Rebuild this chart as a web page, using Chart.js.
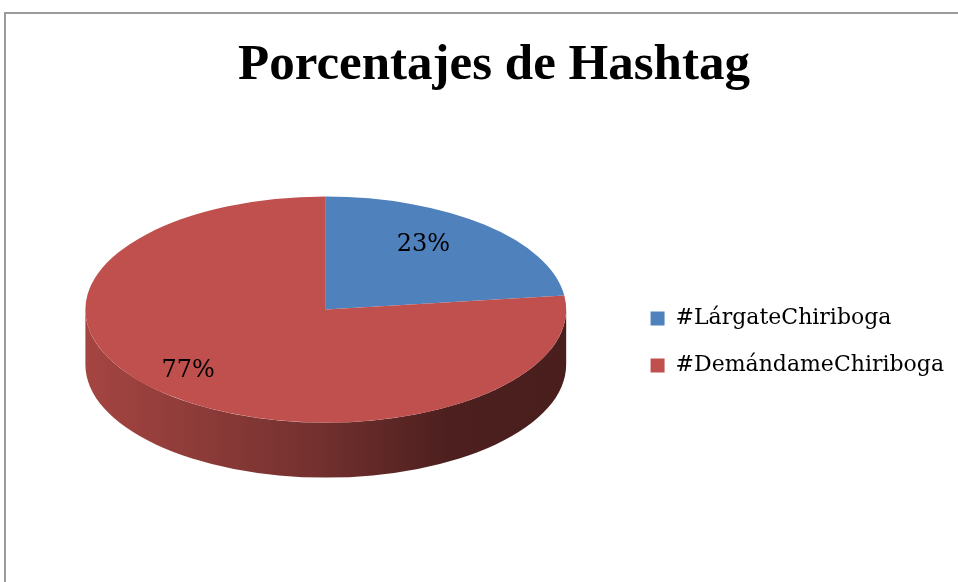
<!DOCTYPE html>
<html>
<head>
<meta charset="utf-8">
<script src="https://cdn.jsdelivr.net/npm/chart.js@4.4.1/dist/chart.umd.min.js"></script>
<style>
  html, body { margin: 0; padding: 0; background: #fff; overflow: hidden; }
  #wrap { position: relative; width: 958px; height: 582px; }
  #frame { position: absolute; left: 4px; top: 12px; width: 2000px; height: 2000px;
           border-left: 2px solid #9c9c9c; border-top: 2px solid #9c9c9c; }
  canvas { position: absolute; left: 0; top: 0; }
</style>
</head>
<body>
<div id="wrap">
  <div id="frame"></div>
  <canvas id="graph" width="958" height="582"></canvas>
</div>
<script>
const categories = ["#LárgateChiriboga", "#DemándameChiriboga"];
const percentages = [23, 77];
const sliceColors = ["#4F81BD", "#C0504D"];

// 3D look of the old office pie
const tilt = 0.47;
const depth = 55;
const shiftX = -4;
const lift = 32;

function shade(hex, k) {
    const n = parseInt(hex.slice(1), 16);
    const r = Math.round(((n >> 16) & 255) * k);
    const g = Math.round(((n >> 8) & 255) * k);
    const b = Math.round((n & 255) * k);
    return "rgb(" + r + "," + g + "," + b + ")";
}

function ellipseOf(chart) {
    const arcs = chart.getDatasetMeta(0).data;
    const a = arcs[0];
    return {
        x: a.x + shiftX,
        y: a.y - lift,
        rx: a.outerRadius,
        ry: a.outerRadius * tilt,
        cx: a.x,
        cy: a.y
    };
}

const pie3d = {
    id: "pie3d",
    beforeDatasetsDraw(chart) {
        const ctx = chart.ctx;
        const arcs = chart.getDatasetMeta(0).data;
        const e = ellipseOf(chart);

        // side wall, only the front half shows
        arcs.forEach((arc, i) => {
            [-2 * Math.PI, 0, 2 * Math.PI].forEach(k => {
                const s = Math.max(arc.startAngle + k, 0);
                const en = Math.min(arc.endAngle + k, Math.PI);
                if (en <= s) return;
                const grad = ctx.createLinearGradient(e.x - e.rx, 0, e.x + e.rx, 0);
                const col = sliceColors[i];
                grad.addColorStop(0, shade(col, 0.86));
                grad.addColorStop(0.45, shade(col, 0.62));
                grad.addColorStop(0.75, shade(col, 0.40));
                grad.addColorStop(1, shade(col, 0.38));
                ctx.beginPath();
                ctx.ellipse(e.x, e.y, e.rx, e.ry, 0, s, en, false);
                ctx.ellipse(e.x, e.y + depth, e.rx, e.ry, 0, en, s, true);
                ctx.closePath();
                ctx.fillStyle = grad;
                ctx.fill();
            });
        });

        // squash the top face into the ellipse
        ctx.save();
        ctx.translate(e.x, e.y);
        ctx.scale(e.rx / arcs[0].outerRadius, e.ry / arcs[0].outerRadius);
        ctx.translate(-e.cx, -e.cy);
    },
    afterDatasetsDraw(chart) {
        const ctx = chart.ctx;
        ctx.restore();
        const arcs = chart.getDatasetMeta(0).data;
        const e = ellipseOf(chart);
        const total = percentages.reduce((a, b) => a + b, 0);
        ctx.save();
        ctx.font = "24px 'DejaVu Serif'";
        ctx.fillStyle = "#000";
        ctx.textAlign = "center";
        ctx.textBaseline = "middle";
        arcs.forEach((arc, i) => {
            const mid = (arc.startAngle + arc.endAngle) / 2;
            const x = e.x + e.rx * 0.74 * Math.cos(mid) - 20;
            const y = e.y + e.ry * 0.74 * Math.sin(mid) - 2;
            ctx.fillText(Math.round(percentages[i] / total * 100) + "%", x, y);
        });
        ctx.restore();
    }
};

const graph = document.getElementById("graph").getContext("2d");

let myChart = new Chart(graph, {
    type: "pie",
    data: {
        labels: categories,
        datasets: [
            {
                label: "Porcentaje",
                data: percentages,
                backgroundColor: sliceColors,
                borderWidth: 0,
                clip: false
            }
        ]
    },
    options: {
        responsive: false,
        animation: false,
        layout: {
            padding: { left: 34, right: 4, top: 0, bottom: 0 }
        },
        plugins: {
            title: {
                display: true,
                text: "Porcentajes de Hashtag",
                color: "#000",
                font: { family: "'Liberation Serif'", size: 51, weight: "bold" },
                padding: { top: 35, bottom: 5 }
            },
            legend: {
                position: "right",
                title: {
                    display: true,
                    text: " ",
                    font: { size: 20 },
                    padding: { top: 39, bottom: 39 }
                },
                labels: {
                    color: "#000",
                    font: { family: "'DejaVu Serif'", size: 22 },
                    boxWidth: 14,
                    boxHeight: 14,
                    padding: 25
                }
            },
            tooltip: { enabled: false }
        }
    },
    plugins: [pie3d]
});
</script>
</body>
</html>
